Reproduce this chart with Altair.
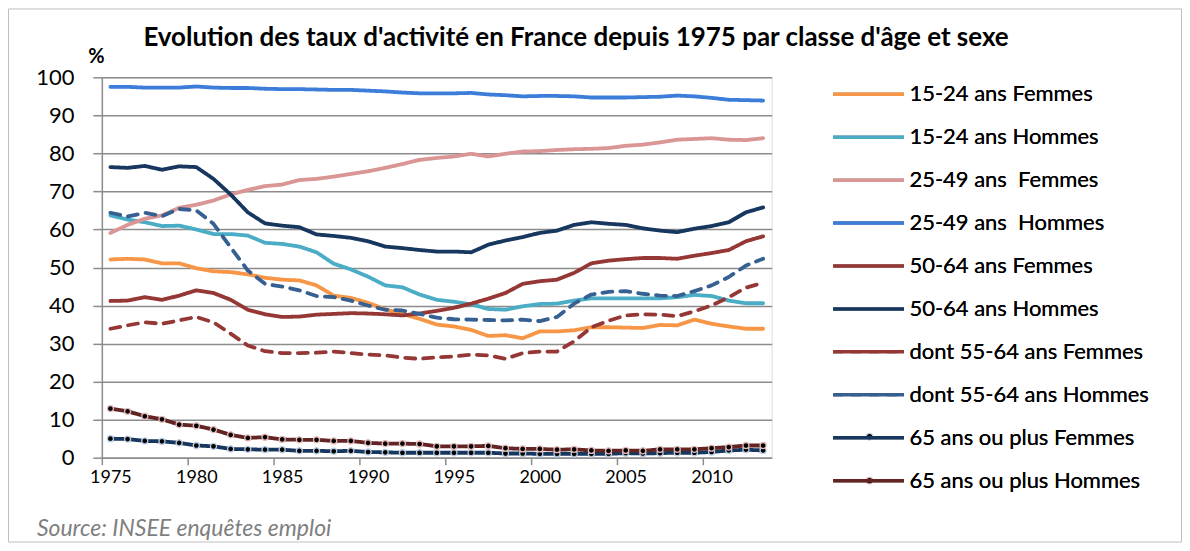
import altair as alt
import pandas as pd

years = list(range(1975, 2014))

series_names = [
    "15-24 ans Femmes",
    "15-24 ans Hommes",
    "25-49 ans\u00a0 Femmes",
    "25-49 ans\u00a0 Hommes",
    "50-64 ans Femmes",
    "50-64 ans Hommes",
    "dont 55-64 ans Femmes",
    "dont 55-64 ans Hommes",
    "65 ans ou plus Femmes",
    "65 ans ou plus Hommes",
]

f_15_24 = [52.1, 52.3, 52.1, 51.1, 51.1, 49.8, 49.0, 48.8, 48.2, 47.3,
           46.8, 46.6, 45.3, 42.6, 42.0, 40.7, 39.0, 37.8, 36.5, 35.0,
           34.5, 33.6, 32.0, 32.2, 31.4, 33.2, 33.2, 33.5, 34.3, 34.3,
           34.2, 34.1, 34.9, 34.8, 36.3, 35.2, 34.5, 33.9, 33.9]
h_15_24 = [63.7, 62.6, 61.9, 60.9, 61.0, 60.0, 58.8, 58.8, 58.4, 56.5,
           56.2, 55.5, 54.0, 51.0, 49.5, 47.6, 45.3, 44.8, 42.9, 41.5,
           41.0, 40.3, 39.1, 38.9, 39.8, 40.4, 40.5, 41.3, 41.9, 41.9,
           41.9, 41.9, 41.9, 42.2, 42.8, 42.5, 41.3, 40.6, 40.6]
f_25_49 = [59.1, 61.2, 62.8, 63.7, 65.7, 66.5, 67.6, 69.2, 70.4, 71.4,
           71.8, 73.0, 73.3, 73.9, 74.6, 75.3, 76.2, 77.2, 78.3, 78.8,
           79.2, 79.9, 79.2, 79.9, 80.5, 80.6, 80.9, 81.1, 81.2, 81.4,
           82.0, 82.3, 82.9, 83.6, 83.8, 84.0, 83.6, 83.5, 84.0]
h_25_49 = [97.5, 97.5, 97.3, 97.3, 97.3, 97.6, 97.3, 97.2, 97.2, 97.0,
           96.9, 96.9, 96.8, 96.7, 96.7, 96.5, 96.3, 96.0, 95.8, 95.8,
           95.8, 95.9, 95.5, 95.3, 95.0, 95.1, 95.1, 95.0, 94.7, 94.7,
           94.7, 94.8, 94.9, 95.2, 95.0, 94.6, 94.1, 94.0, 93.9]
f_50_64 = [41.2, 41.3, 42.2, 41.5, 42.6, 44.0, 43.3, 41.5, 38.9, 37.7,
           37.0, 37.1, 37.6, 37.8, 38.0, 37.9, 37.7, 37.4, 37.9, 38.6,
           39.4, 40.5, 41.8, 43.3, 45.7, 46.4, 46.8, 48.6, 51.1, 51.8,
           52.2, 52.5, 52.5, 52.3, 53.1, 53.8, 54.6, 56.9, 58.2]
h_50_64 = [76.4, 76.2, 76.7, 75.7, 76.6, 76.4, 73.3, 69.2, 64.5, 61.6,
           61.0, 60.6, 58.7, 58.3, 57.8, 56.9, 55.5, 55.1, 54.6, 54.2,
           54.2, 54.0, 56.0, 57.1, 58.0, 59.1, 59.7, 61.2, 61.9, 61.5,
           61.2, 60.3, 59.7, 59.3, 60.2, 60.9, 61.9, 64.5, 65.8]
f_55_64 = [33.9, 34.8, 35.6, 35.2, 36.1, 37.0, 35.6, 32.6, 29.5, 28.0,
           27.5, 27.5, 27.6, 27.9, 27.5, 27.1, 26.9, 26.3, 26.0, 26.4,
           26.6, 27.1, 26.9, 26.0, 27.5, 27.9, 27.9, 30.6, 34.3, 36.0,
           37.4, 37.7, 37.6, 37.2, 38.5, 40.0, 42.2, 44.7, 46.0]
h_55_64 = [64.4, 63.4, 64.4, 63.5, 65.4, 65.0, 61.5, 55.3, 49.2, 45.7,
           45.0, 44.0, 42.5, 42.2, 41.3, 40.0, 38.9, 38.7, 37.8, 36.8,
           36.4, 36.3, 36.2, 36.1, 36.3, 35.9, 37.0, 40.5, 42.9, 43.6,
           43.8, 43.1, 42.6, 42.5, 43.8, 45.3, 47.5, 50.5, 52.3]
f_65 = [5.0, 4.9, 4.4, 4.3, 3.9, 3.2, 3.0, 2.3, 2.2, 2.1,
        2.1, 1.8, 1.8, 1.7, 1.8, 1.5, 1.4, 1.3, 1.3, 1.3,
        1.3, 1.3, 1.3, 1.1, 1.1, 1.0, 1.0, 1.0, 1.0, 1.0,
        1.2, 1.1, 1.2, 1.3, 1.3, 1.5, 1.9, 2.1, 1.9]
h_65 = [12.9, 12.2, 10.9, 10.1, 8.7, 8.4, 7.4, 6.0, 5.2, 5.4,
        4.8, 4.7, 4.7, 4.4, 4.4, 3.9, 3.7, 3.7, 3.6, 3.0,
        3.0, 3.0, 3.1, 2.5, 2.3, 2.3, 2.1, 2.2, 1.9, 1.8,
        1.9, 1.8, 2.2, 2.2, 2.2, 2.5, 2.8, 3.2, 3.2]

all_values = [f_15_24, h_15_24, f_25_49, h_25_49, f_50_64, h_50_64,
              f_55_64, h_55_64, f_65, h_65]

line_colors = ["#F79646", "#4BACC6", "#D99694", "#3B7DD8", "#953735",
               "#17375E", "#953735", "#376092", "#17375E", "#632523"]
dash_styles = [[1, 0], [1, 0], [1, 0], [1, 0], [1, 0], [1, 0],
               [10, 8], [10, 8], [1, 0], [1, 0]]
marker_series = ["65 ans ou plus Femmes", "65 ans ou plus Hommes"]
marker_outline = ["#B9CDE5", "#E6B9B8"]

x_tick_values = [1974.5 + 5 * k for k in range(8)]
y_tick_values = list(range(0, 101, 10))

title_text = "Evolution des taux d'activité en France depuis 1975 par classe d'âge et sexe"
source_text = "Source: INSEE enquêtes emploi"

rows = []
for name, vals in zip(series_names, all_values):
    for yr, v in zip(years, vals):
        rows.append({"year": yr, "value": v, "series": name})
df = pd.DataFrame(rows)

W, H = 671, 381
FONT = "Lato"
GRID = "#8C8C8C"

x_enc = alt.X("year:Q",
              scale=alt.Scale(domain=[1974.5, 2013.5], nice=False, zero=False),
              axis=alt.Axis(values=x_tick_values, tickCount=20,
                            labelExpr="toString(datum.value + 0.5)",
                            labelOffset=8.6, labelFontSize=18, labelFont=FONT,
                            labelColor="#000000", labelPadding=4,
                            tickSize=7, tickColor=GRID, tickWidth=1.5,
                            domainColor=GRID, domainWidth=1.5,
                            grid=False, title=None, labelFlush=False,
                            labelOverlap=False))
y_enc = alt.Y("value:Q",
              scale=alt.Scale(domain=[0, 100], nice=False),
              axis=alt.Axis(values=y_tick_values, tickCount=20, grid=True,
                            gridColor=GRID, gridWidth=1.5, tickSize=9,
                            tickColor=GRID, tickWidth=1.5, domainColor=GRID,
                            domainWidth=1.5, labelFontSize=22, labelFont=FONT,
                            labelColor="#000000", labelPadding=19,
                            labelOverlap=False, labelFlush=False,
                            title="%", titleAngle=0, titleX=-6, titleY=-21,
                            titleFontSize=20, titleFont=FONT,
                            titleFontWeight="bold", titleAlign="center",
                            titleBaseline="middle", titleColor="#000000"))

# legend symbol: horizontal stroke 71 px wide drawn with a custom path
main_legend = alt.Legend(orient="none", legendX=756, legendY=5, title=None,
                         symbolType="M-3.5,0H3.5", symbolSize=412,
                         symbolStrokeWidth=3.5, labelFontSize=22,
                         labelFont=FONT, labelColor="#000000", labelOffset=29,
                         rowPadding=20, padding=0, labelLimit=400)

lines = alt.Chart(df).mark_line(strokeWidth=3.8, strokeCap="round",
                                strokeJoin="round").encode(
    x=x_enc,
    y=y_enc,
    color=alt.Color("series:N",
                    scale=alt.Scale(domain=series_names, range=line_colors),
                    legend=main_legend),
    strokeDash=alt.StrokeDash("series:N",
                              scale=alt.Scale(domain=series_names,
                                              range=dash_styles),
                              legend=main_legend),
    order="year:Q",
)

# marker glyphs for the two "65 ans ou plus" legend entries (no labels)
points = alt.Chart(df).transform_filter(
    alt.FieldOneOfPredicate(field="series", oneOf=marker_series)
).mark_point(filled=True, fill="#000000", size=36, strokeWidth=1.3,
             opacity=1).encode(
    x="year:Q",
    y="value:Q",
    stroke=alt.Stroke("series:N",
                      scale=alt.Scale(domain=marker_series,
                                      range=marker_outline),
                      legend=alt.Legend(orient="none", legendX=758,
                                        legendY=349, title=None,
                                        symbolType="circle", symbolSize=44,
                                        symbolStrokeWidth=1.3,
                                        symbolFillColor="#000000",
                                        labelFontSize=22, labelFont=FONT,
                                        labelExpr="''",
                                        rowPadding=22, padding=0)),
)

frame_df = pd.DataFrame({"k": [0]})
frame = alt.Chart(frame_df).mark_rect(fill="transparent", stroke="#BFBFBF",
                                      strokeWidth=1).encode(
    x=alt.value(-93.5), x2=alt.value(1081.5),
    y=alt.value(-68.5), y2=alt.value(465.5))

title_df = pd.DataFrame({"label": [title_text]})
title = alt.Chart(title_df).mark_text(
    align="center", baseline="alphabetic", font=FONT, fontSize=26,
    fontWeight="bold", color="#000000").encode(
    x=alt.value(475), y=alt.value(-31), text="label:N")

source_df = pd.DataFrame({"label": [source_text]})
source = alt.Chart(source_df).mark_text(
    align="left", baseline="alphabetic", font=FONT, fontSize=23,
    fontStyle="italic", color="#7F7F7F").encode(
    x=alt.value(-65), y=alt.value(459), text="label:N")

chart = alt.layer(frame, lines, points, title, source).properties(
    width=W, height=H,
    autosize=alt.AutoSizeParams(type="none"),
    padding={"left": 94, "top": 69, "right": 411, "bottom": 85},
).resolve_scale(color="independent").configure_view(stroke=None).configure(
    background="#FFFFFF")

chart.save("out.html", embed_options={"renderer": "svg", "actions": False})
